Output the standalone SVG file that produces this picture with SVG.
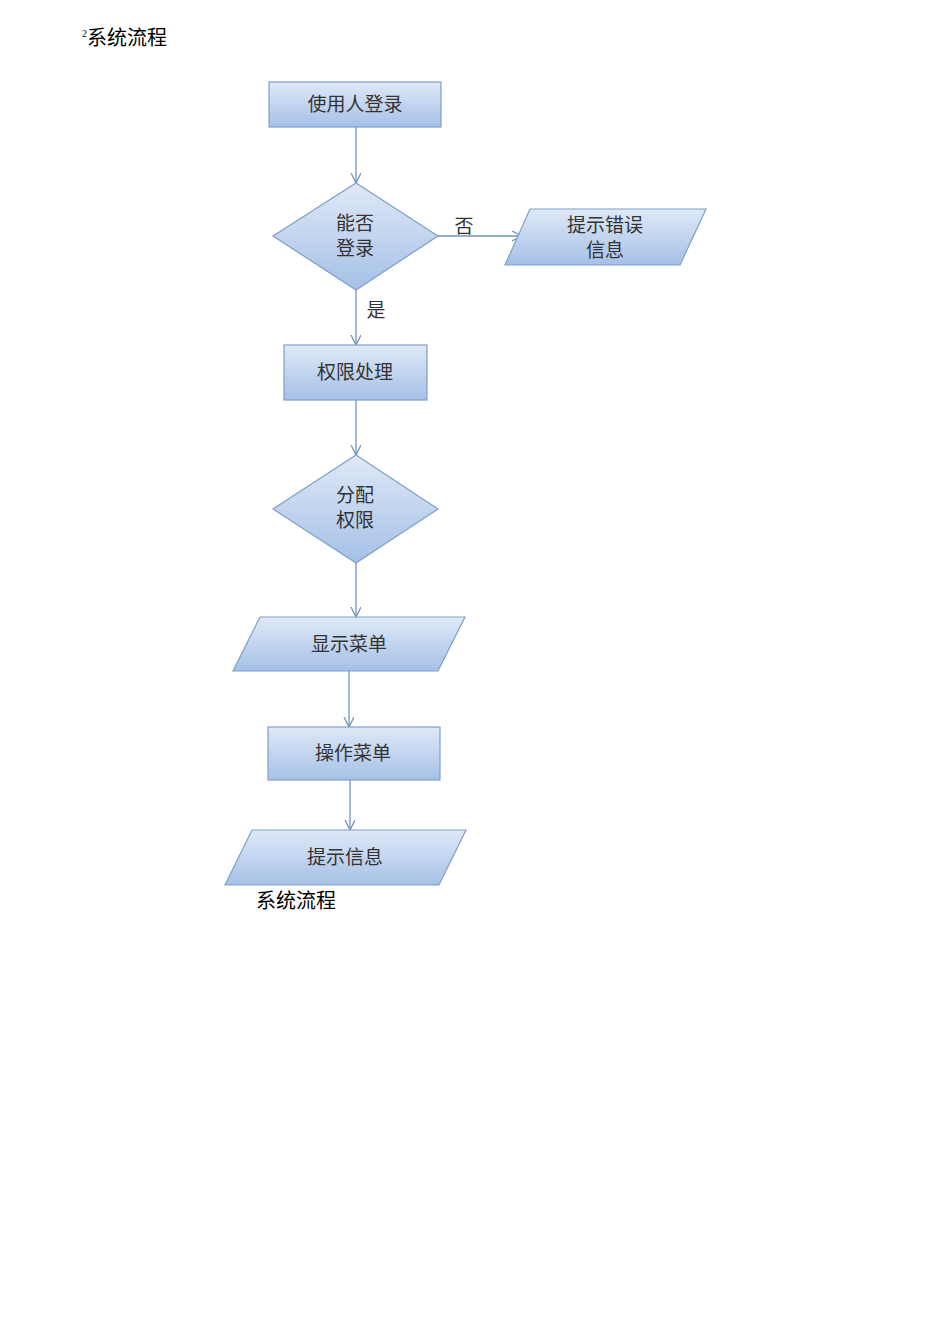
<svg xmlns="http://www.w3.org/2000/svg" width="950" height="1344" viewBox="0 0 950 1344">
<style>
.s{fill:url(#g);stroke:#7f9fc8;stroke-width:1.2}
.t{font-family:"Noto Sans CJK SC",sans-serif;font-size:19px;fill:#333;text-anchor:middle}
.c{stroke:#6f93c0;stroke-width:1.3;fill:none;marker-end:url(#a)}
.d{font-family:"Liberation Serif","Noto Sans CJK SC",serif;font-size:20px;fill:#000}
</style>
<defs>
<linearGradient id="g" x1="0" y1="0" x2="0" y2="1"><stop offset="0" stop-color="#dfe9f7"/><stop offset="1" stop-color="#a5c0e6"/></linearGradient>
<marker id="a" markerWidth="12" markerHeight="12" refX="10" refY="5" orient="auto" markerUnits="userSpaceOnUse"><path d="M0,0 L10,5 L0,10" fill="none" stroke="#6f93c0" stroke-width="1.3"/></marker>
</defs>
<rect width="950" height="1344" fill="#fff"/>
<text class="d" x="82" y="45"><tspan font-size="10" dy="-8">2</tspan><tspan dy="8">系统流程</tspan></text>
<g id="connectors">
<path class="c" d="M356,127 V183"/>
<path class="c" d="M438,236 H522"/>
<path class="c" d="M356,290 V345"/>
<path class="c" d="M356,400 V455"/>
<path class="c" d="M356,563 V617"/>
<path class="c" d="M349,671 V727"/>
<path class="c" d="M350,780 V830"/>
<text class="t" x="464" y="233">否</text>
<text class="t" x="376" y="317">是</text>
</g>
<g id="n1"><rect class="s" x="269" y="82" width="172" height="45"/><text class="t" x="355" y="111">使用人登录</text></g>
<g id="n2"><polygon class="s" points="356,183 438,236 356,290 273,236"/><text class="t" x="355" y="230">能否</text><text class="t" x="355" y="255">登录</text></g>
<g id="n3"><polygon class="s" points="530,209 706,209 680,265 505,265"/><text class="t" x="605" y="232">提示错误</text><text class="t" x="605" y="257">信息</text></g>
<g id="n4"><rect class="s" x="284" y="345" width="143" height="55"/><text class="t" x="355" y="379">权限处理</text></g>
<g id="n5"><polygon class="s" points="356,455 438,509 356,563 273,509"/><text class="t" x="355" y="502">分配</text><text class="t" x="355" y="527">权限</text></g>
<g id="n6"><polygon class="s" points="260,617 465,617 438,671 233,671"/><text class="t" x="349" y="651">显示菜单</text></g>
<g id="n7"><rect class="s" x="268" y="727" width="172" height="53"/><text class="t" x="353" y="760">操作菜单</text></g>
<g id="n8"><polygon class="s" points="252,830 466,830 439,885 225,885"/><text class="t" x="345" y="864">提示信息</text></g>
<text class="d" x="256" y="908">系统流程</text>
</svg>
